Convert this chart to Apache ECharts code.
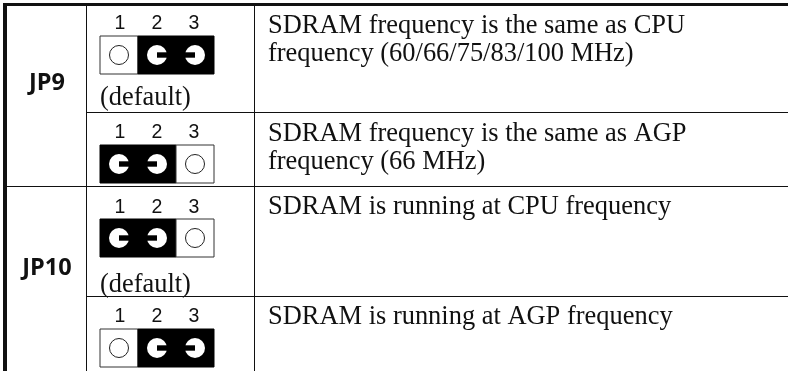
<!DOCTYPE html>
<html><head><meta charset="utf-8">
<style>html,body{margin:0;padding:0;background:#fff}#c{width:788px;height:371px}</style>
<script src="https://cdn.jsdelivr.net/npm/echarts@6/dist/echarts.min.js"></script>
</head><body><div id="c"></div>
<script>
// ---- data ----
const jumperNames = ['JP9', 'JP10'];
const pinLabels = ['1', '2', '3'];
const closedPins = [[2, 3], [1, 2], [1, 2], [2, 3]];
const defaultNotes = ['(default)', '', '(default)', ''];
const descriptions = [
  ['SDRAM frequency is the same as CPU', 'frequency (60/66/75/83/100 MHz)'],
  ['SDRAM frequency is the same as AGP', 'frequency (66 MHz)'],
  ['SDRAM is running at CPU frequency'],
  ['SDRAM is running at AGP frequency']
];

// ---- layout (axis units equal canvas pixels) ----
const W = 788, H = 371;
const boxTops = [36, 145, 219, 329];
const labelBase = [30, 139, 214, 323];
const noteBase = [103, 0, 290, 0];
const descBase = [[32, 60], [140, 168], [213], [323]];
const nameBase = [87, 272];
const SERIF = '"Liberation Serif","Times New Roman",serif';
const SANS = '"Liberation Sans",Arial,sans-serif';
const rules = [
  [3, 3, W - 3, 3], [3, 3, 4, H - 3],
  [86, 6, 1, H - 6], [254, 6, 1, H - 6],
  [86, 112, W - 86, 1], [6, 186, W - 6, 1], [86, 296, W - 86, 1]
];
const pinX0 = 100, pinW = 38, boxH = 38;

const pinData = [];
closedPins.forEach((closed, r) => pinLabels.forEach((p, i) => pinData.push([r, i + 1, closed.includes(i + 1) ? 1 : 0, closed[0]])));

const textData = [];
function addText(txt, x, y, font, size, weight, align, dy) { textData.push({ value: [x, y + dy], txt, font, size, weight, align }); }
jumperNames.forEach((n, i) => addText(n, 47, nameBase[i], '"Open Sans",sans-serif', 23.5, 700, 'center', 8));
pinLabels.forEach((p, i) => labelBase.forEach(y => addText(p, 157 + (i - 1) * 37, y, SANS, 19.5, 400, 'center', 4)));
defaultNotes.forEach((n, r) => { if (n) addText(n, pinX0, noteBase[r], SERIF, 26.4, 400, 'left', 8); });
descriptions.forEach((lines, r) => lines.forEach((l, k) => addText(l, 268, descBase[r][k], SERIF, 26.45, 400, 'left', 7)));

const chart = echarts.init(document.getElementById('c'), null, { renderer: 'canvas' });
chart.setOption({
  animation: false,
  backgroundColor: '#fff',
  grid: { left: 0, top: 0, right: 0, bottom: 0 },
  xAxis: { type: 'value', min: 0, max: W, show: false },
  yAxis: { type: 'value', min: 0, max: H, inverse: true, show: false },
  series: [
    { type: 'custom', clip: false, silent: true, data: rules,
      renderItem(params, api) {
        const a = api.coord([api.value(0), api.value(1)]);
        return { type: 'rect', shape: { x: a[0], y: a[1], width: api.value(2), height: api.value(3) }, style: { fill: '#111' } };
      } },
    { type: 'custom', clip: false, silent: true, data: pinData,
      encode: { x: 1, y: 0 },
      renderItem(params, api) {
        const r = api.value(0), pin = api.value(1), closed = api.value(2), first = api.value(3);
        const tl = api.coord([pinX0 + (pin - 1) * pinW, boxTops[r]]);
        const cx = tl[0] + pinW / 2, cy = tl[1] + boxH / 2;
        const kids = [{ type: 'rect', shape: { x: tl[0], y: tl[1], width: pinW, height: boxH },
          style: { fill: closed ? '#000' : '#fff', stroke: closed ? '#000' : '#333', lineWidth: 1 } }];
        if (closed) {
          kids.push({ type: 'circle', shape: { cx, cy, r: 10 }, style: { fill: '#fff' } });
          const toRight = pin === first;
          kids.push({ type: 'rect', shape: { x: toRight ? cx : cx - 11, y: cy - 2.7, width: 11, height: 5.4 }, style: { fill: '#000' } });
        } else {
          kids.push({ type: 'circle', shape: { cx, cy, r: 9.5 }, style: { fill: '#fff', stroke: '#222', lineWidth: 1 } });
        }
        return { type: 'group', children: kids };
      } },
    { type: 'custom', clip: false, silent: true, data: textData,
      renderItem(params, api) {
        const d = textData[params.dataIndex];
        const p = api.coord(d.value);
        return { type: 'text', x: p[0], y: p[1], style: {
          text: d.txt, fill: '#111', textAlign: d.align, textVerticalAlign: 'bottom',
          font: `${d.weight} ${d.size}px ${d.font}` } };
      } }
  ]
});
</script></body></html>
